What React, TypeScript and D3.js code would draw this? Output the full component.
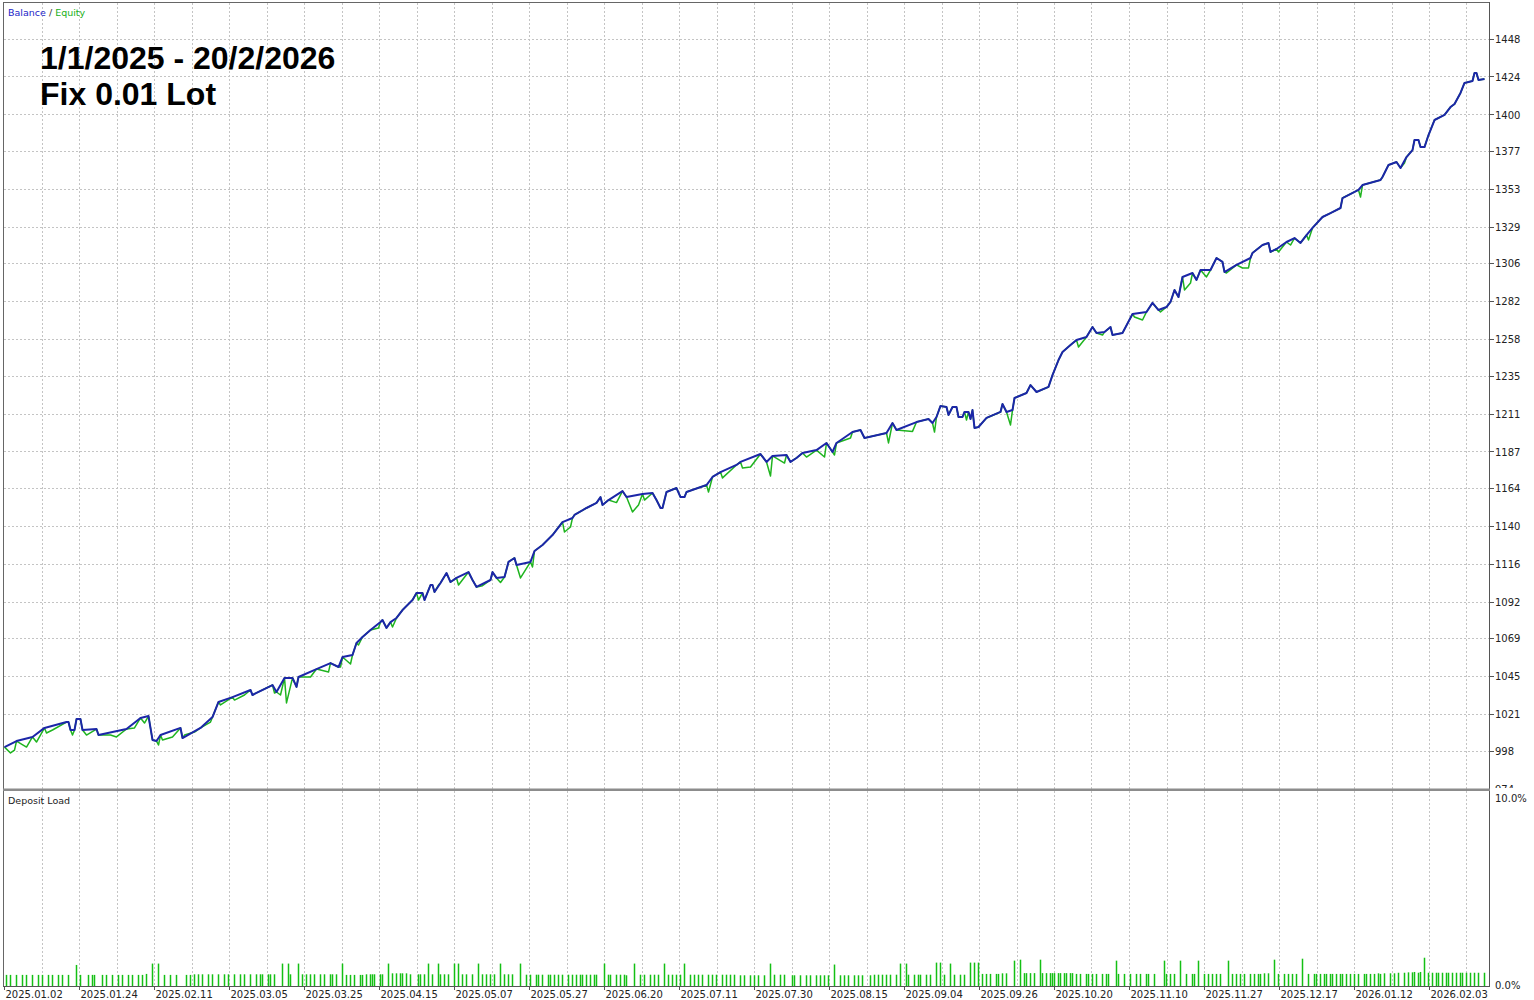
import React from 'react';
import * as d3 from 'd3';

// ---- data (x = deal sequence number, y = account value) ----
const balance: [number, number][] = [
  [0,1000.5],[6,1004.3],[14,1006.9],[20,1012.6],[31,1016.3],[32,1016.3],[33,1011.3],[35,1011.3],[36,1018.2],[38,1018.2],[39,1011.3],[46,1011.9],[47,1008.1],[61,1011.9],[68,1018.9],[72,1020.1],[74,1005.0],[76,1004.3],[78,1008.1],[88,1012.6],[89,1006.2],[98,1012.6],[104,1019.5],[107,1029.0],[114,1032.1],[123,1036.6],[124,1033.4],[126,1034.7],[134,1039.7],[136,1035.3],[140,1044.2],[144,1044.2],[146,1038.5],[147,1044.8],[156,1049.8],[163,1053.6],[167,1051.1],[169,1057.4],[174,1058.7],[176,1066.3],[179,1070.1],[183,1074.5],[188,1079.5],[189,1080.8],[191,1075.8],[193,1079.5],[196,1082.1],[199,1087.1],[204,1093.4],[206,1097.9],[209,1097.9],[210,1093.4],[213,1102.9],[214,1102.9],[215,1098.5],[218,1104.2],[221,1110.5],[223,1104.8],[226,1107.4],[232,1111.1],[234,1106.1],[236,1101.7],[243,1106.1],[244,1111.1],[246,1107.4],[250,1108.0],[252,1117.5],[255,1120.0],[256,1115.6],[263,1117.5],[265,1124.4],[269,1128.2],[274,1134.5],[279,1142.7],[284,1145.3],[285,1147.2],[291,1151.6],[296,1154.8],[298,1158.5],[299,1153.5],[302,1156.6],[309,1162.3],[311,1158.5],[319,1160.4],[324,1161.1],[326,1156.6],[328,1151.6],[329,1151.6],[331,1161.7],[336,1164.2],[338,1158.5],[340,1158.5],[341,1161.7],[351,1166.1],[354,1171.2],[358,1174.3],[366,1178.8],[368,1180.7],[378,1185.7],[381,1180.7],[384,1184.5],[391,1185.1],[393,1180.7],[396,1183.2],[399,1186.4],[406,1188.2],[411,1192.7],[414,1187.0],[416,1192.7],[424,1199.6],[428,1200.9],[430,1195.8],[441,1199.0],[444,1205.3],[446,1200.9],[456,1205.9],[462,1207.8],[464,1205.3],[466,1209.1],[468,1216.1],[471,1215.4],[472,1210.4],[474,1215.4],[476,1215.4],[477,1209.1],[479,1209.1],[480,1212.3],[482,1212.3],[483,1207.8],[484,1213.5],[485,1202.2],[487,1202.8],[491,1208.5],[498,1212.3],[499,1217.3],[501,1212.3],[504,1213.5],[505,1221.1],[511,1224.3],[513,1229.3],[516,1224.9],[522,1228.1],[524,1235.6],[527,1245.1],[529,1250.2],[533,1254.6],[536,1257.8],[541,1259.7],[544,1266.0],[546,1262.2],[550,1262.8],[553,1266.0],[554,1260.9],[559,1262.2],[564,1274.2],[571,1275.5],[574,1281.2],[577,1276.7],[581,1278.6],[583,1281.8],[585,1289.4],[587,1284.9],[589,1297.6],[594,1300.1],[596,1295.7],[598,1302.0],[603,1302.0],[606,1309.6],[609,1307.1],[610,1300.7],[616,1305.2],[623,1309.6],[624,1312.8],[629,1317.8],[632,1319.1],[633,1313.4],[636,1315.3],[641,1319.7],[645,1322.2],[648,1319.1],[651,1324.1],[654,1328.6],[659,1335.5],[663,1338.0],[668,1341.2],[669,1347.5],[677,1352.6],[679,1355.7],[688,1358.9],[689,1360.8],[692,1368.4],[696,1370.3],[698,1366.5],[701,1373.4],[704,1377.8],[705,1384.2],[707,1384.2],[708,1379.7],[710,1379.7],[712,1387.3],[715,1396.8],[720,1400.0],[723,1405.0],[725,1406.9],[728,1413.9],[730,1420.2],[734,1421.5],[735,1426.5],[736,1426.5],[737,1422.1],[740,1422.7]
];

const equityDips: [number, number][] = [
  [3,996.8],[5,998.6],[11,1000.5],[16,1003.7],[21,1009.4],[24,1011.3],[34,1008.1],[41,1008.1],[53,1008.1],[56,1006.9],[65,1012.6],[70,1015.7],[77,1001.8],[79,1005.0],[84,1006.9],[90,1008.1],[95,1010.0],[103,1016.3],[105,1022.7],[108,1027.1],[115,1030.2],[120,1033.4],[135,1034.7],[138,1033.4],[141,1028.4],[153,1044.8],[162,1047.9],[168,1051.1],[173,1053.0],[177,1065.0],[187,1075.8],[194,1076.4],[207,1093.4],[217,1102.9],[227,1102.9],[239,1102.5],[248,1104.5],[258,1107.4],[264,1114.3],[280,1136.4],[283,1139.6],[306,1155.0],[314,1149.1],[317,1153.5],[320,1156.6],[352,1161.7],[359,1170.6],[369,1176.9],[373,1177.5],[383,1171.8],[390,1180.0],[401,1183.8],[410,1183.8],[415,1185.1],[423,1195.8],[442,1192.7],[454,1200.0],[465,1199.6],[481,1207.2],[503,1204.1],[537,1253.3],[549,1260.9],[565,1272.3],[569,1270.4],[578,1275.5],[590,1289.4],[593,1293.8],[601,1297.6],[611,1300.1],[619,1303.3],[622,1303.3],[637,1313.4],[643,1317.8],[652,1321.0],[678,1348.1],[700,1369.6]
];

// deposit load in percent per deal
const depositLoad: [number, number][] = [
  [1,.57],[3,.57],[6,.57],[9,.57],[11,.57],[14,.57],[17,.57],[19,.57],[22,.57],[24,.57],[27,.57],[29,.57],[32,.57],[36,1.08],[38,.57],[42,.57],[44,.57],[45,.57],[49,.57],[51,.57],[54,.57],[57,.57],[59,.57],[62,.57],[64,.57],[67,.57],[69,.57],[71,.62],[74,1.15],[77,1.15],[80,.57],[83,.57],[86,.57],[91,.57],[93,.57],[95,.6],[97,.6],[99,.6],[102,.6],[104,.6],[107,.6],[110,.6],[112,.6],[115,.6],[118,.6],[120,.6],[123,.6],[126,.6],[128,.6],[129,.6],[132,.6],[133,.6],[135,.6],[139,1.15],[142,1.15],[143,.6],[147,1.15],[149,.6],[151,.6],[153,.6],[155,.6],[158,.6],[160,.6],[163,.6],[164,.6],[166,.6],[169,1.15],[171,.57],[173,.57],[175,.57],[178,.57],[179,.57],[181,.6],[183,.6],[184,.6],[185,.6],[188,.6],[189,.6],[192,1.15],[194,.65],[196,.65],[198,.65],[199,.65],[201,.65],[203,.6],[207,.6],[208,.6],[210,.6],[212,1.15],[214,.6],[217,1.15],[218,.6],[220,.6],[222,.6],[225,1.15],[227,1.15],[229,.6],[231,.6],[234,.6],[237,1.15],[239,.6],[241,.6],[243,.6],[245,.6],[248,1.15],[250,.6],[252,.6],[254,.6],
  [258,1.15],[261,.58],[263,.58],[266,.58],[267,.58],[269,.58],[272,.58],[273,.58],[275,.58],[277,.58],[279,.58],[282,.58],[284,.58],[286,.58],[288,.58],[289,.58],[291,.58],[293,.58],[295,.58],[296,.58],[300,1.15],[302,.58],[303,.58],[306,.58],[308,.58],[310,.58],[311,.55],[315,1.15],[318,.58],[320,.58],[323,.58],[325,.58],[327,.58],[330,1.15],[332,.58],[334,.58],[336,.58],[338,.58],[340,1.15],[343,.58],[345,.58],[347,.58],[349,.58],[352,.58],[354,.58],[356,.58],[359,.58],[361,.58],[363,.58],[365,.58],[368,.55],[370,.55],[373,.55],[375,.55],[377,.55],[380,.55],[383,1.15],[385,.58],[388,.58],[390,.58],[394,.55],[395,.55],[398,.55],[401,.55],[403,.55],[406,.55],[408,.55],[410,.55],[412,.55],[415,1.1],[418,.55],[420,.55],[422,.55],[425,.55],[427,.55],[429,.55],[433,.55],[435,.58],[437,.58],[439,.58],[441,.58],[443,.58],[446,.58],[448,1.15],[451,1.15],[452,.58],[455,.58],[457,.58],[458,.58],[461,.58],[463,.58],[466,1.2],[468,1.2],[470,.58],[473,1.15],[475,.58],[478,.58],[480,.58],[483,1.2],[485,1.2],[487,1.2],[489,.62],[491,.62],[493,.62],[496,.62],[497,.62],[499,.65],[501,.65],[505,1.3],
  [508,1.35],[510,.66],[511,.66],[513,.66],[515,.66],[518,1.35],[519,.66],[521,.66],[523,.66],[524,.66],[525,.66],[527,.66],[528,.66],[530,.66],[531,.66],[533,.66],[534,.66],[536,.62],[538,.62],[541,.62],[542,.62],[544,.62],[546,.62],[549,.62],[551,.62],[552,.62],[556,1.3],[557,.62],[560,.62],[563,.62],[566,.62],[568,.62],[571,.62],[572,.62],[575,.62],[580,1.3],[581,.62],[583,.62],[585,.62],[588,1.3],[591,.62],[594,.62],[595,.62],[597,1.3],[600,.62],[602,.62],[604,.62],[606,.62],[608,.62],[612,1.3],[614,.62],[616,.62],[618,.62],[620,.62],[623,.62],[625,.62],[627,.62],[628,.62],[630,.65],[632,.65],[635,1.35],[637,.62],[640,.62],[642,.62],[644,.62],[646,.62],[649,1.4],[652,.62],[655,.62],[656,.62],[658,.62],[660,.62],[661,.62],[663,.62],[664,.62],[666,.62],[668,.62],[669,.62],[671,.62],[673,.62],[675,.62],[677,.62],[680,.62],[681,.62],[683,.62],[685,.62],[687,.65],[688,.62],[690,.65],[693,.65],[695,.65],[697,.68],[700,.68],[702,.7],[704,.7],[705,.72],[707,.68],[708,.72],[710,1.45],[712,.68],[714,.68],[716,.68],[717,.68],[719,.68],[721,.68],[722,.68],[724,.68],[726,.68],[728,.68],[729,.68],[731,.68],[733,.68],[735,.68],[737,.68],[740,.68]
];

const yTicks = [1448,1424,1400,1377,1353,1329,1306,1282,1258,1235,1211,1187,1164,1140,1116,1092,1069,1045,1021,998,974];
const xLabels = ["2025.01.02","2025.01.24","2025.02.11","2025.03.05","2025.03.25","2025.04.15","2025.05.07","2025.05.27","2025.06.20","2025.07.11","2025.07.30","2025.08.15","2025.09.04","2025.09.26","2025.10.20","2025.11.10","2025.11.27","2025.12.17","2026.01.12","2026.02.03"];
const loadTicks = [{ v: 10, t: "10.0%" }, { v: 0, t: "0.0%" }];
const titleLines = ["1/1/2025 - 20/2/2026", "Fix 0.01 Lot"];

const FONT = "'DejaVu Sans', Verdana, sans-serif";
const LEFT = 4, RIGHT = 1490, TOP = 3, MAIN_BOTTOM = 789, LOAD_TOP = 791, LOAD_BOTTOM = 986;

export default function App() {
  const x = d3.scaleLinear().domain([0, 740]).range([4.5, 1484.5]);
  const y = d3.scaleLinear().domain([974, 1448]).range([789, 39]);
  const yl = d3.scaleLinear().domain([0, 10]).range([LOAD_BOTTOM, LOAD_TOP]);
  const line = d3.line<[number, number]>().x(d => x(d[0])).y(d => y(d[1]));
  const equity = [...balance, ...equityDips].sort((a, b) => a[0] - b[0]);
  const gridDeals = d3.range(1, 40).map(k => k * 18.75);
  const labelDeals = xLabels.map((_, i) => i * 37.5);
  const crisp = (v: number) => Math.floor(v) + 0.5;

  return (
    <svg width={1534} height={1000} style={{ position: 'absolute', left: 0, top: 0, background: '#fff' }}>
      <defs>
        <clipPath id="mainClip"><rect x={LEFT} y={TOP} width={RIGHT - LEFT} height={MAIN_BOTTOM - TOP - 1} /></clipPath>
        <clipPath id="lblClip"><rect x={RIGHT} y={0} width={60} height={MAIN_BOTTOM - 1} /></clipPath>
      </defs>
      <rect x={0} y={0} width={1534} height={1000} fill="#fff" />

      {/* vertical grid */}
      {gridDeals.map((d, i) => (
        <line key={'vg' + i} x1={crisp(x(d))} x2={crisp(x(d))} y1={TOP} y2={LOAD_BOTTOM}
          stroke="#c4c4c4" strokeWidth={1} strokeDasharray="2,2" />
      ))}
      {/* horizontal grid */}
      {yTicks.slice(0, -1).map((v, i) => (
        <line key={'hg' + i} x1={LEFT} x2={RIGHT} y1={crisp(y(v))} y2={crisp(y(v))}
          stroke="#c4c4c4" strokeWidth={1} strokeDasharray="2,2" />
      ))}

      {/* equity & balance */}
      <g clipPath="url(#mainClip)">
        <path d={line(equity) || ''} fill="none" stroke="#1fb41f" strokeWidth={1.5} strokeLinejoin="round" />
        <path d={line(balance) || ''} fill="none" stroke="#1c26a8" strokeWidth={2} strokeLinejoin="round" />
      </g>

      {/* deposit load bars */}
      {depositLoad.map(([d, v], i) => (
        <rect key={'b' + i} x={x(d) - 0.75} y={yl(v)} width={1.5} height={yl(0) - yl(v)} fill="#14c014" />
      ))}

      {/* frame */}
      <line x1={LEFT} x2={RIGHT} y1={TOP - 0.5} y2={TOP - 0.5} stroke="#666" />
      <line x1={LEFT - 0.5} x2={LEFT - 0.5} y1={TOP - 1} y2={LOAD_BOTTOM} stroke="#666" />
      <line x1={RIGHT - 0.5} x2={RIGHT - 0.5} y1={TOP - 1} y2={LOAD_BOTTOM} stroke="#555" />
      <rect x={LEFT - 1} y={MAIN_BOTTOM - 0.5} width={RIGHT - LEFT + 1} height={2.5} fill="#8c8c8c" />
      <line x1={LEFT - 1} x2={RIGHT} y1={LOAD_BOTTOM + 0.5} y2={LOAD_BOTTOM + 0.5} stroke="#555" />

      {/* right axis */}
      <g clipPath="url(#lblClip)">
        {yTicks.map((v, i) => (
          <g key={'yt' + i}>
            <line x1={RIGHT} x2={RIGHT + 4} y1={crisp(y(v))} y2={crisp(y(v))} stroke="#555" />
            <text x={RIGHT + 5} y={y(v) + 3.8} fontFamily={FONT} fontSize={10} fill="#222">{v}</text>
          </g>
        ))}
      </g>
      {loadTicks.map((t, i) => (
        <text key={'lt' + i} x={RIGHT + 5} y={yl(t.v) + (t.v === 10 ? 11 : 3)} fontFamily={FONT} fontSize={10} fill="#222">{t.t}</text>
      ))}

      {/* bottom axis */}
      {labelDeals.map((d, i) => (
        <g key={'xt' + i}>
          <line x1={crisp(x(d))} x2={crisp(x(d))} y1={LOAD_BOTTOM} y2={LOAD_BOTTOM + 4} stroke="#555" />
          <text x={x(d) + 1} y={998} fontFamily={FONT} fontSize={10} fill="#222">{xLabels[i]}</text>
        </g>
      ))}

      {/* legends */}
      <text x={8} y={16} fontFamily={FONT} fontSize={9.5}>
        <tspan fill="#2323c8">Balance</tspan>
        <tspan fill="#333"> / </tspan>
        <tspan fill="#20b020">Equity</tspan>
      </text>
      <text x={8} y={804} fontFamily={FONT} fontSize={9.5} fill="#222">Deposit Load</text>

      {/* title */}
      {titleLines.map((t, i) => (
        <text key={'tt' + i} x={40} y={69 + i * 36} fontFamily="'Liberation Sans', Arial, sans-serif"
          fontWeight="bold" fontSize={32} fill="#000">{t}</text>
      ))}
    </svg>
  );
}
